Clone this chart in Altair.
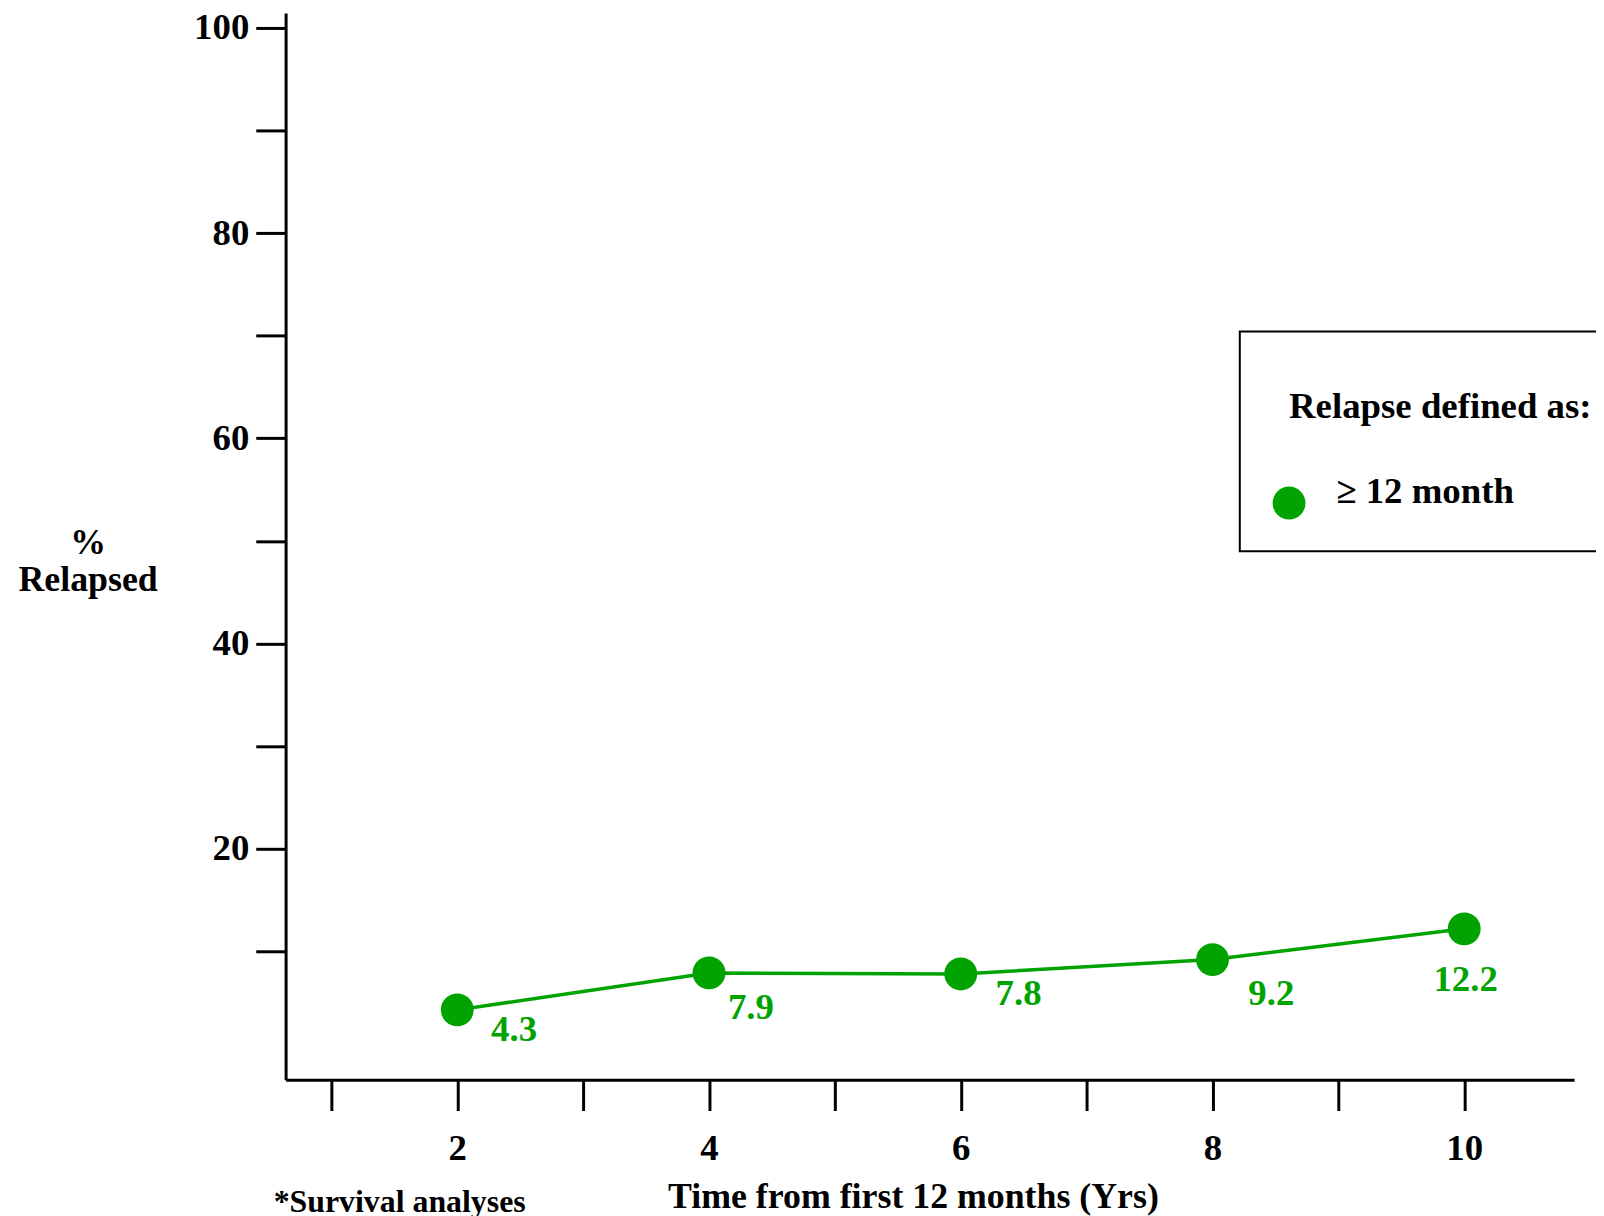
import altair as alt
import pandas as pd

# ---- data ----
YEARS = [2, 4, 6, 8, 10]
RELAPSED = [4.3, 7.9, 7.8, 9.2, 12.2]
VALUE_LABELS = ["4.3", "7.9", "7.8", "9.2", "12.2"]
SERIES = "\u2265 12 month"
X_TICKS = [1, 2, 3, 4, 5, 6, 7, 8, 9, 10]
Y_TICKS = [10, 20, 30, 40, 50, 60, 70, 80, 90, 100]
X_TITLE = "Time from first 12 months (Yrs)"
Y_TITLE = ["%", "Relapsed"]
LEGEND_TITLE = "Relapse defined as:"
FOOTNOTE = "*Survival analyses"

# ---- styles ----
GREEN = "#00a300"
FONT = "Liberation Serif"
# per-label text offsets (dx, dy) in pixels
LABEL_OFFSETS = {"4.3": (34, 31), "7.9": (19, 46), "7.8": (35, 31),
                 "9.2": (36, 46), "12.2": (-31, 63)}
# small indent of the legend title relative to the symbol column
TITLE_INDENT = "\u200b\u00a0\u00a0"

df = pd.DataFrame({
    "year": YEARS,
    "pct": RELAPSED,
    "label": VALUE_LABELS,
    "series": [SERIES] * len(YEARS),
})

x_enc = alt.X(
    "year:Q",
    scale=alt.Scale(domain=[0.636, 10.873], nice=False, zero=False),
    axis=alt.Axis(
        values=X_TICKS,
        labelExpr="datum.value % 2 == 0 ? datum.label : ''",
        title=X_TITLE,
        tickSize=31,
        labelPadding=49,
        labelBaseline="alphabetic",
        labelFlush=False,
        labelOverlap=False,
        titleX=630.5,
        titleY=128,
        titleAlign="center",
        titleBaseline="alphabetic",
    ),
)
y_enc = alt.Y(
    "pct:Q",
    scale=alt.Scale(domain=[-2.5, 101.45], nice=False, zero=False),
    axis=alt.Axis(
        values=Y_TICKS,
        labelExpr="datum.value % 20 == 0 ? datum.label : ''",
        title=Y_TITLE,
        titleAngle=0,
        titleX=-199,
        titleY=543,
        titleAlign="center",
        titleBaseline="alphabetic",
        titleLineHeight=37,
        tickSize=30,
        labelPadding=7,
        labelOverlap=False,
        labelFlush=False,
    ),
)

base = alt.Chart(df)

line = base.mark_line(color=GREEN, strokeWidth=3.5).encode(x=x_enc, y=y_enc)

points = base.mark_point(filled=True, size=1090, opacity=1, shape="circle").encode(
    x=x_enc,
    y=y_enc,
    color=alt.Color(
        "series:N",
        scale=alt.Scale(range=[GREEN]),
        legend=alt.Legend(
            title=TITLE_INDENT + LEGEND_TITLE,
            orient="none",
            legendX=959,
            legendY=320,
            padding=31,
            strokeColor="black",
            fillColor="white",
            titleFont=FONT,
            titleFontSize=37,
            titleFontWeight="bold",
            titleColor="black",
            titleLimit=1000,
            titleBaseline="line-top",
            titleLineHeight=91,
            titlePadding=86,
            labelFont=FONT,
            labelFontSize=37,
            labelFontWeight="bold",
            labelColor="black",
            labelLimit=1000,
            labelOffset=29,
            labelBaseline="alphabetic",
            symbolSize=1090,
            symbolType="circle",
            symbolStrokeWidth=0,
        ),
    ),
)

labels = []
for lab in VALUE_LABELS:
    dx, dy = LABEL_OFFSETS[lab]
    labels.append(
        base.transform_filter(alt.datum.label == lab)
        .mark_text(dx=dx, dy=dy, align="left", baseline="alphabetic",
                   font=FONT, fontSize=37, fontWeight="bold", color=GREEN)
        .encode(x=x_enc, y=y_enc, text="label:N")
    )

note = alt.Chart(pd.DataFrame({"note": [FOOTNOTE]})).mark_text(
    align="left", baseline="alphabetic", font=FONT, fontSize=32,
    fontWeight="bold", color="black"
).encode(text="note:N", x=alt.value(-12), y=alt.value(1205))

chart = (
    alt.layer(line, points, *labels, note)
    .properties(
        width=1295,
        height=1072,
        autosize=alt.AutoSizeParams(type="none"),
        padding={"left": 279, "top": 2, "right": 22, "bottom": 134},
        background="white",
    )
    .configure_view(stroke=None)
    .configure_axis(
        grid=False,
        domainColor="black",
        domainWidth=3,
        tickColor="black",
        tickWidth=3,
        labelFont=FONT,
        labelFontSize=37,
        labelFontWeight="bold",
        labelColor="black",
        titleFont=FONT,
        titleFontSize=36,
        titleFontWeight="bold",
        titleColor="black",
    )
    .configure_legend(strokeWidth=2)
)

chart.save("out.html", embed_options={"renderer": "svg", "actions": False})
